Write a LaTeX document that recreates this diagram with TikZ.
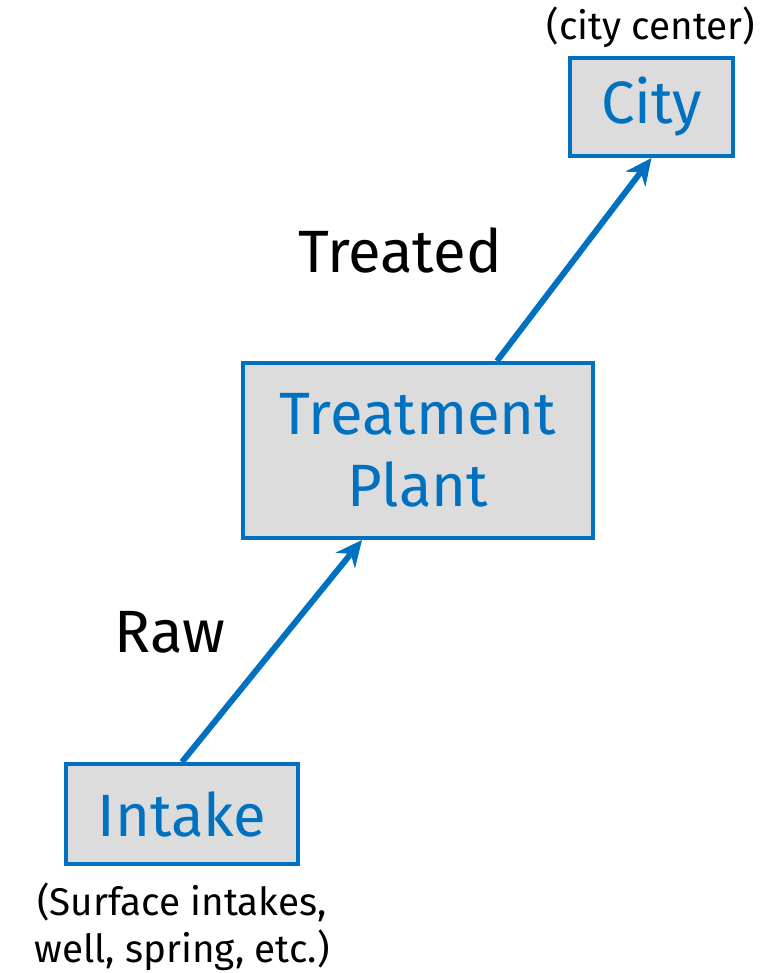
\documentclass[tikz,border=0pt]{standalone}
\usepackage{fontspec}
\setmainfont{Fira Sans}
\usetikzlibrary{arrows.meta}
\definecolor{flowblue}{HTML}{0070C0}
\definecolor{boxgray}{HTML}{DCDCDC}
\begin{document}
\begin{tikzpicture}[
        x=0.02cm, y=-0.02cm,
        every node/.style={font=\fontsize{22}{27}\selectfont, align=center, inner sep=0pt},
        stage/.style={rectangle, draw=flowblue, line width=2.3pt, fill=boxgray, text=flowblue, font=\fontsize{34}{41}\selectfont},
        flow/.style={-{Stealth[length=15pt, width=14pt]}, line width=3.4pt, draw=flowblue},
        flowlabel/.style={text=black, font=\fontsize{34}{40}\selectfont}
        ]
        \useasboundingbox (0, 0) rectangle (773, 973);

        % Stage boxes
        \node[stage, minimum width=3.26cm, minimum height=1.96cm] (city) at (651.5, 107) {City};
        \node[stage, minimum width=7cm, minimum height=3.5cm] (plant) at (418, 450.5) {Treatment\\Plant};
        \node[stage, minimum width=4.64cm, minimum height=2cm] (intake) at (182, 814) {Intake};

        % Notes
        \node (citynote) at (651, 27) {(city center)};
        \node (intakenote) at (182, 927) {(Surface intakes,\\well, spring, etc.)};

        % Flows
        \draw[flow] (intake.north) -- ([xshift=-1.12cm]plant.south);
        \draw[flow] ([xshift=1.58cm]plant.north) -- (city.south);
        \node[flowlabel] (raw) at (170, 632) {Raw};
        \node[flowlabel] (treated) at (400, 250) {Treated};

    \end{tikzpicture}
\end{document}
